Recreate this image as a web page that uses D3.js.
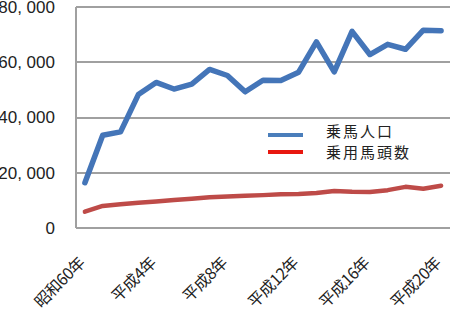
<!DOCTYPE html>
<meta charset="utf-8">
<style>
body {
    margin: 0;
    background-color: #FFFFFF;
}
text {
    font-family: 'Noto Sans CJK JP', 'Liberation Sans', sans-serif;
    fill: #222;
}
.y.axis text {
    font-family: 'Liberation Sans', Arial, sans-serif;
    font-size: 17px;
}
.x.axis text {
    font-size: 16px;
    letter-spacing: -0.5px;
}
.axis path,
.axis line {
    stroke: none;
}
.grid line {
    stroke: #A0A0A0;
    stroke-width: 2px;
    shape-rendering: crispEdges;
}
.line {
    fill: none;
    stroke-linejoin: round;
    stroke-linecap: round;
}
</style>
<div class="chart"></div>
<script src="https://d3js.org/d3.v7.min.js"></script>
<script>
    // 年次 (昭和60年, 平成元年〜平成20年)
    var years = ["昭和60年", "平成元年", "平成2年", "平成3年", "平成4年", "平成5年", "平成6年",
        "平成7年", "平成8年", "平成9年", "平成10年", "平成11年", "平成12年", "平成13年",
        "平成14年", "平成15年", "平成16年", "平成17年", "平成18年", "平成19年", "平成20年"];

    var riders = [16400, 33600, 34800, 48300, 52700, 50300, 52100, 57400, 55200, 49300, 53500,
        53400, 56400, 67400, 56500, 71200, 62800, 66500, 64700, 71600, 71400];

    var horses = [5900, 8000, 8600, 9100, 9600, 10100, 10600, 11100, 11400, 11700, 11900,
        12200, 12300, 12700, 13400, 13100, 13000, 13700, 14900, 14200, 15300];

    var yTicks = [0, 20000, 40000, 60000, 80000];
    var seriesNames = ["乗馬人口", "乗用馬頭数"];

    var margin = { top: 7, right: 0, bottom: 84, left: 76 };
    var width = 450 - margin.left - margin.right;
    var height = 312 - margin.top - margin.bottom;

    var svg = d3.select(".chart")
        .append("svg")
        .attr("width", 450)
        .attr("height", 312)
        .append("g")
        .attr("transform", "translate(" + margin.left + "," + margin.top + ")");

    var x = d3.scaleBand().domain(years).range([0, width]);
    var y = d3.scaleLinear().domain([0, 80000]).range([height, 0]);

    // grid
    svg.append("g")
        .attr("class", "grid")
        .selectAll("line")
        .data(yTicks)
        .enter()
        .append("line")
        .attr("x1", 0)
        .attr("x2", width)
        .attr("y1", function (d) { return y(d); })
        .attr("y2", function (d) { return y(d); });

    svg.append("g")
        .attr("class", "grid")
        .append("line")
        .attr("x1", 0).attr("x2", 0)
        .attr("y1", 0).attr("y2", height);

    var fmt = function (d) { return d === 0 ? "0" : d3.format(",")(d).replace(",", ", "); };

    svg.append("g")
        .attr("class", "y axis")
        .call(d3.axisLeft(y).tickValues(yTicks).tickFormat(fmt).tickSize(0).tickPadding(21));

    svg.append("g")
        .attr("class", "x axis")
        .attr("transform", "translate(0," + height + ")")
        .call(d3.axisBottom(x)
            .tickValues(years.filter(function (d, i) { return i % 4 === 0; }))
            .tickSize(0))
        .selectAll("text")
            .attr("text-anchor", "end")
            .attr("y", 0)
            .attr("transform", "translate(-3,32) rotate(-45)")
            .attr("dy", "0.35em");

    var line = function (values) {
        return d3.line()
            .x(function (d, i) { return x(years[i]) + x.bandwidth() / 2; })
            .y(function (d) { return y(d); })(values);
    };

    svg.append("path")
        .attr("class", "line")
        .attr("d", line(horses))
        .attr("stroke", "#BE4B48")
        .attr("stroke-width", 4.5);

    svg.append("path")
        .attr("class", "line")
        .attr("d", line(riders))
        .attr("stroke", "#4475B8")
        .attr("stroke-width", 5.5);

    // legend
    var legendColors = ["#4A7EBB", "#E8170F"];
    var legend = svg.selectAll(".legendRow")
        .data(seriesNames)
        .enter()
        .append("g")
        .attr("class", "legendRow")
        .attr("transform", function (d, i) { return "translate(192," + (128 + i * 17) + ")"; });

    legend.append("line")
        .attr("x1", 0)
        .attr("x2", 35)
        .attr("stroke", function (d, i) { return legendColors[i]; })
        .attr("stroke-width", 4);

    legend.append("text")
        .attr("x", 58)
        .attr("y", function (d, i) { return i === 0 ? -3 : 1; })
        .attr("dy", "0.35em")
        .style("font-size", "15px")
        .style("letter-spacing", "2px")
        .text(function (d) { return d; });
</script>
